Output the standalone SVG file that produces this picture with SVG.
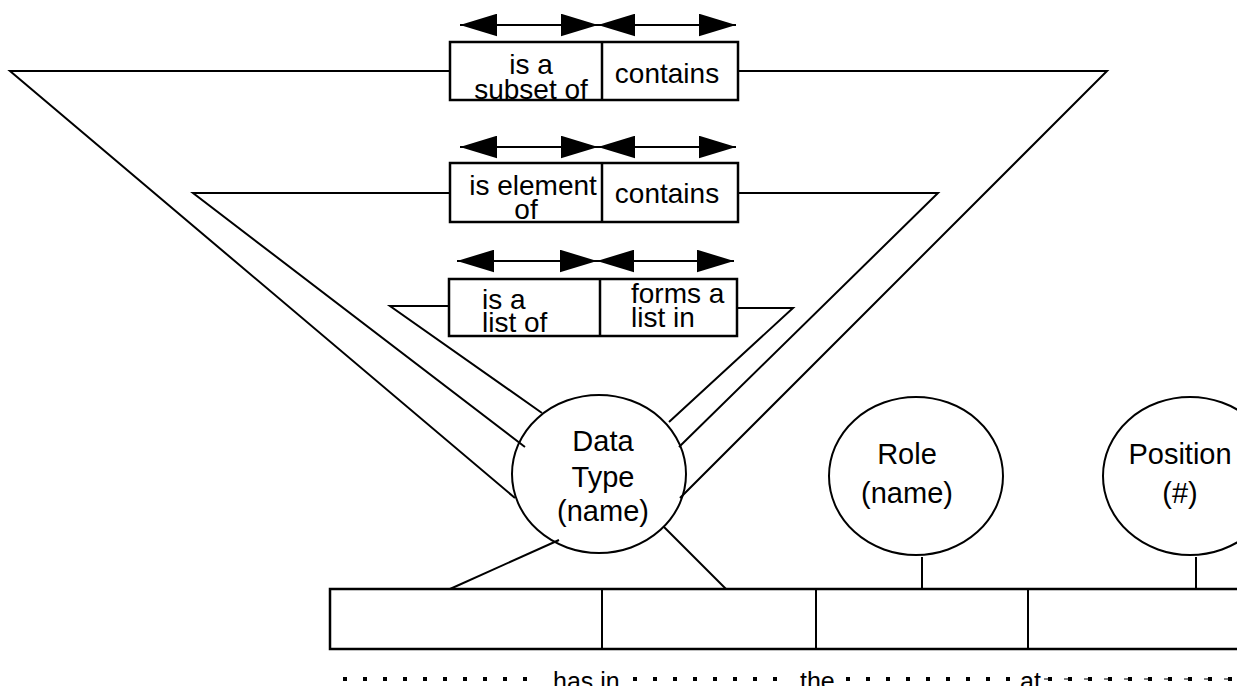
<svg xmlns="http://www.w3.org/2000/svg" width="1237" height="686" viewBox="0 0 1237 686">
<style>
.ln{stroke:#000;stroke-width:2;fill:none}
.bx{stroke:#000;stroke-width:2.5;fill:#fff}
.t{font-family:"Liberation Sans",Arial,sans-serif;font-size:28px;fill:#000}
.c{font-family:"Liberation Sans",Arial,sans-serif;font-size:29px;fill:#000;text-anchor:middle}
.m{text-anchor:middle}
.dot{stroke:#000;stroke-width:4;stroke-dasharray:4 16;fill:none}
.ar{stroke:#000;stroke-width:2;fill:none;marker-start:url(#ah);marker-end:url(#ah)}
</style>
<defs>
<marker id="ah" markerUnits="userSpaceOnUse" markerWidth="37" markerHeight="23" viewBox="0 0 36 22" refX="36" refY="11" orient="auto-start-reverse">
<path d="M0,0 L36,11 L0,22 z" fill="#000"/>
</marker>
</defs>
<rect width="1237" height="686" fill="#fff"/>
<g id="connectors">
<polyline class="ln" points="450,71 10,71 515,498"/>
<polyline class="ln" points="450,193 193,193 525,447"/>
<polyline class="ln" points="449,306 390,306 542,413"/>
<polyline class="ln" points="738,71 1107,71 680,498"/>
<polyline class="ln" points="738,193 938,193 679,447"/>
<polyline class="ln" points="737,308 793,308 669,422"/>
<line class="ln" x1="559" y1="540" x2="450" y2="589"/>
<line class="ln" x1="664" y1="527" x2="727" y2="590"/>
<line class="ln" x1="922" y1="557" x2="922" y2="589"/>
<line class="ln" x1="1196" y1="557" x2="1196" y2="589"/>
</g>
<g id="rel1">
<line class="ar" x1="460" y1="25" x2="598" y2="25"/>
<line class="ar" x1="598" y1="25" x2="736" y2="25"/>
<rect class="bx" x="450" y="42" width="288" height="58"/>
<line class="bx" x1="602" y1="42" x2="602" y2="100"/>
<text class="t m" x="531" y="74">is a</text>
<text class="t m" x="531" y="99">subset of</text>
<text class="t m" x="667" y="83">contains</text>
</g>
<g id="rel2">
<line class="ar" x1="460" y1="147" x2="598" y2="147"/>
<line class="ar" x1="598" y1="147" x2="736" y2="147"/>
<rect class="bx" x="450" y="163" width="288" height="59"/>
<line class="bx" x1="602" y1="163" x2="602" y2="222"/>
<text class="t m" x="533" y="195">is element</text>
<text class="t m" x="526" y="219">of</text>
<text class="t m" x="667" y="203">contains</text>
</g>
<g id="rel3">
<line class="ar" x1="457" y1="261" x2="597" y2="261"/>
<line class="ar" x1="597" y1="261" x2="734" y2="261"/>
<rect class="bx" x="449" y="279" width="288" height="57"/>
<line class="bx" x1="600" y1="279" x2="600" y2="336"/>
<text class="t" x="482" y="309">is a</text>
<text class="t" x="482" y="332">list of</text>
<text class="t" x="631" y="303">forms a</text>
<text class="t" x="631" y="327">list in</text>
</g>
<g id="datatype">
<ellipse class="ln" cx="599" cy="474" rx="87" ry="79"/>
<text class="c" x="603" y="451">Data</text>
<text class="c" x="603" y="487">Type</text>
<text class="c" x="603" y="521">(name)</text>
</g>
<g id="role">
<ellipse class="ln" cx="916" cy="476" rx="87" ry="79"/>
<text class="c" x="907" y="464">Role</text>
<text class="c" x="907" y="503">(name)</text>
</g>
<g id="position">
<ellipse class="ln" cx="1190" cy="476" rx="87" ry="79"/>
<text class="c" x="1180" y="464">Position</text>
<text class="c" x="1180" y="503">(#)</text>
</g>
<g id="table">
<polyline class="bx" points="1240,589 330,589 330,649 1240,649"/>
<line class="ln" x1="602" y1="589" x2="602" y2="649"/>
<line class="ln" x1="816" y1="589" x2="816" y2="649"/>
<line class="ln" x1="1028" y1="589" x2="1028" y2="649"/>
</g>
<g id="reading">
<line class="dot" x1="343" y1="679" x2="540" y2="679"/>
<line class="dot" x1="633" y1="679" x2="790" y2="679"/>
<line class="dot" x1="846" y1="679" x2="1020" y2="679"/>
<line stroke="#000" stroke-width="1" stroke-dasharray="8 12" x1="1044" y1="679" x2="1237" y2="679"/>
<line class="dot" x1="1048" y1="679" x2="1237" y2="679"/>
<text class="t" x="553" y="690" style="font-size:25px">has in</text>
<text class="t" x="800" y="690" style="font-size:25px">the</text>
<text class="t" x="1020" y="690" style="font-size:25px">at</text>
</g>
</svg>
